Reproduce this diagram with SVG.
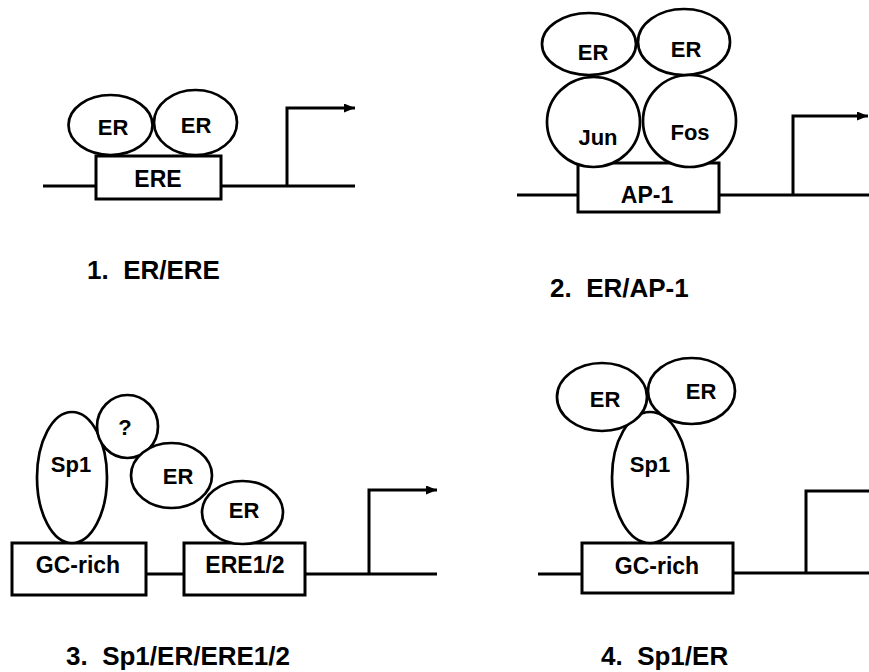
<svg xmlns="http://www.w3.org/2000/svg" width="869" height="672" viewBox="0 0 869 672">
<style>
text{font-family:"Liberation Sans",Arial,sans-serif;font-weight:bold;fill:#000}
.t{font-size:22px;text-anchor:middle}
.b{font-size:23px;text-anchor:middle}
.lab{font-size:26px;white-space:pre}
.prot{fill:#fff;stroke:#000;stroke-width:2.7}
.box{fill:#fff;stroke:#000;stroke-width:3}
.dna{fill:none;stroke:#000;stroke-width:3}
</style>
<defs>
<marker id="ah" markerUnits="userSpaceOnUse" markerWidth="11" markerHeight="9" refX="11" refY="4.5" orient="auto">
<path d="M0,0 L11,4.5 L0,9 z" fill="#000"/>
</marker>
</defs>
<rect width="869" height="672" fill="#fff"/>

<g id="connectors">
<line class="dna" x1="43" y1="186" x2="96" y2="186"/>
<line class="dna" x1="221" y1="186" x2="355" y2="186"/>
<polyline class="dna" points="287,186 287,108 355,108" marker-end="url(#ah)"/>

<line class="dna" x1="517" y1="195" x2="578" y2="195"/>
<line class="dna" x1="719" y1="195" x2="869" y2="195"/>
<polyline class="dna" points="793,195 793,116 868,116" marker-end="url(#ah)"/>

<line class="dna" x1="146" y1="574" x2="184" y2="574"/>
<line class="dna" x1="305" y1="574" x2="437" y2="574"/>
<polyline class="dna" points="369,574 369,490 437,490" marker-end="url(#ah)"/>

<line class="dna" x1="538" y1="574" x2="582" y2="574"/>
<line class="dna" x1="733" y1="573" x2="869" y2="573"/>
<polyline class="dna" points="806,573 806,491 869,491"/>
</g>

<!-- Panel 1 -->
<g id="p1-ere"><rect class="box" x="96" y="156" width="125" height="43"/><text class="b" x="158" y="187">ERE</text></g>
<g id="p1-er1"><ellipse class="prot" cx="110.5" cy="125" rx="42" ry="30"/><text class="t" x="113" y="135">ER</text></g>
<g id="p1-er2"><ellipse class="prot" cx="195.5" cy="122.5" rx="41.5" ry="32.5"/><text class="t" x="196" y="133">ER</text></g>
<g id="p1-label"><text class="lab" x="87" y="279">1.  ER/ERE</text></g>

<!-- Panel 2 -->
<g id="p2-ap1"><rect class="box" x="578" y="163" width="141" height="49"/><text class="b" x="647" y="203">AP-1</text></g>
<g id="p2-jun"><ellipse class="prot" cx="593.5" cy="122" rx="46.5" ry="45"/><text class="t" x="598" y="145">Jun</text></g>
<g id="p2-fos"><ellipse class="prot" cx="689.5" cy="121" rx="46.5" ry="46"/><text class="t" x="690" y="140">Fos</text></g>
<g id="p2-er1"><ellipse class="prot" cx="589" cy="44" rx="47" ry="31"/><text class="t" x="593" y="60">ER</text></g>
<g id="p2-er2"><ellipse class="prot" cx="684" cy="42" rx="46" ry="33"/><text class="t" x="686" y="57">ER</text></g>
<g id="p2-label"><text class="lab" x="550" y="297">2.  ER/AP-1</text></g>

<!-- Panel 3 -->
<g id="p3-gc"><rect class="box" x="12" y="543" width="134" height="52"/><text class="b" x="78" y="573">GC-rich</text></g>
<g id="p3-ere"><rect class="box" x="184" y="543" width="121" height="52"/><text class="b" x="245" y="573">ERE1/2</text></g>
<g id="p3-sp1"><ellipse class="prot" cx="72" cy="477.5" rx="35" ry="65.5"/><text class="t" x="71" y="472">Sp1</text></g>
<g id="p3-q"><ellipse class="prot" cx="127.5" cy="426.5" rx="30.5" ry="31.5"/><text class="t" x="125" y="435">?</text></g>
<g id="p3-er1"><ellipse class="prot" cx="171.5" cy="475.5" rx="40.5" ry="32.5"/><text class="t" x="178" y="484">ER</text></g>
<g id="p3-er2"><ellipse class="prot" cx="242.5" cy="512.5" rx="40.5" ry="31.5"/><text class="t" x="244" y="518">ER</text></g>
<g id="p3-label"><text class="lab" x="66" y="665">3.  Sp1/ER/ERE1/2</text></g>

<!-- Panel 4 -->
<g id="p4-gc"><rect class="box" x="582" y="543" width="151" height="50"/><text class="b" x="657" y="574">GC-rich</text></g>
<g id="p4-sp1"><ellipse class="prot" cx="650" cy="477.5" rx="38" ry="65.5"/><text class="t" x="650" y="472">Sp1</text></g>
<g id="p4-er1"><ellipse class="prot" cx="602" cy="397" rx="45" ry="34"/><text class="t" x="605" y="407">ER</text></g>
<g id="p4-er2"><ellipse class="prot" cx="691.5" cy="391" rx="43.5" ry="33"/><text class="t" x="701" y="399">ER</text></g>
<g id="p4-label"><text class="lab" x="601" y="665">4.  Sp1/ER</text></g>
</svg>
